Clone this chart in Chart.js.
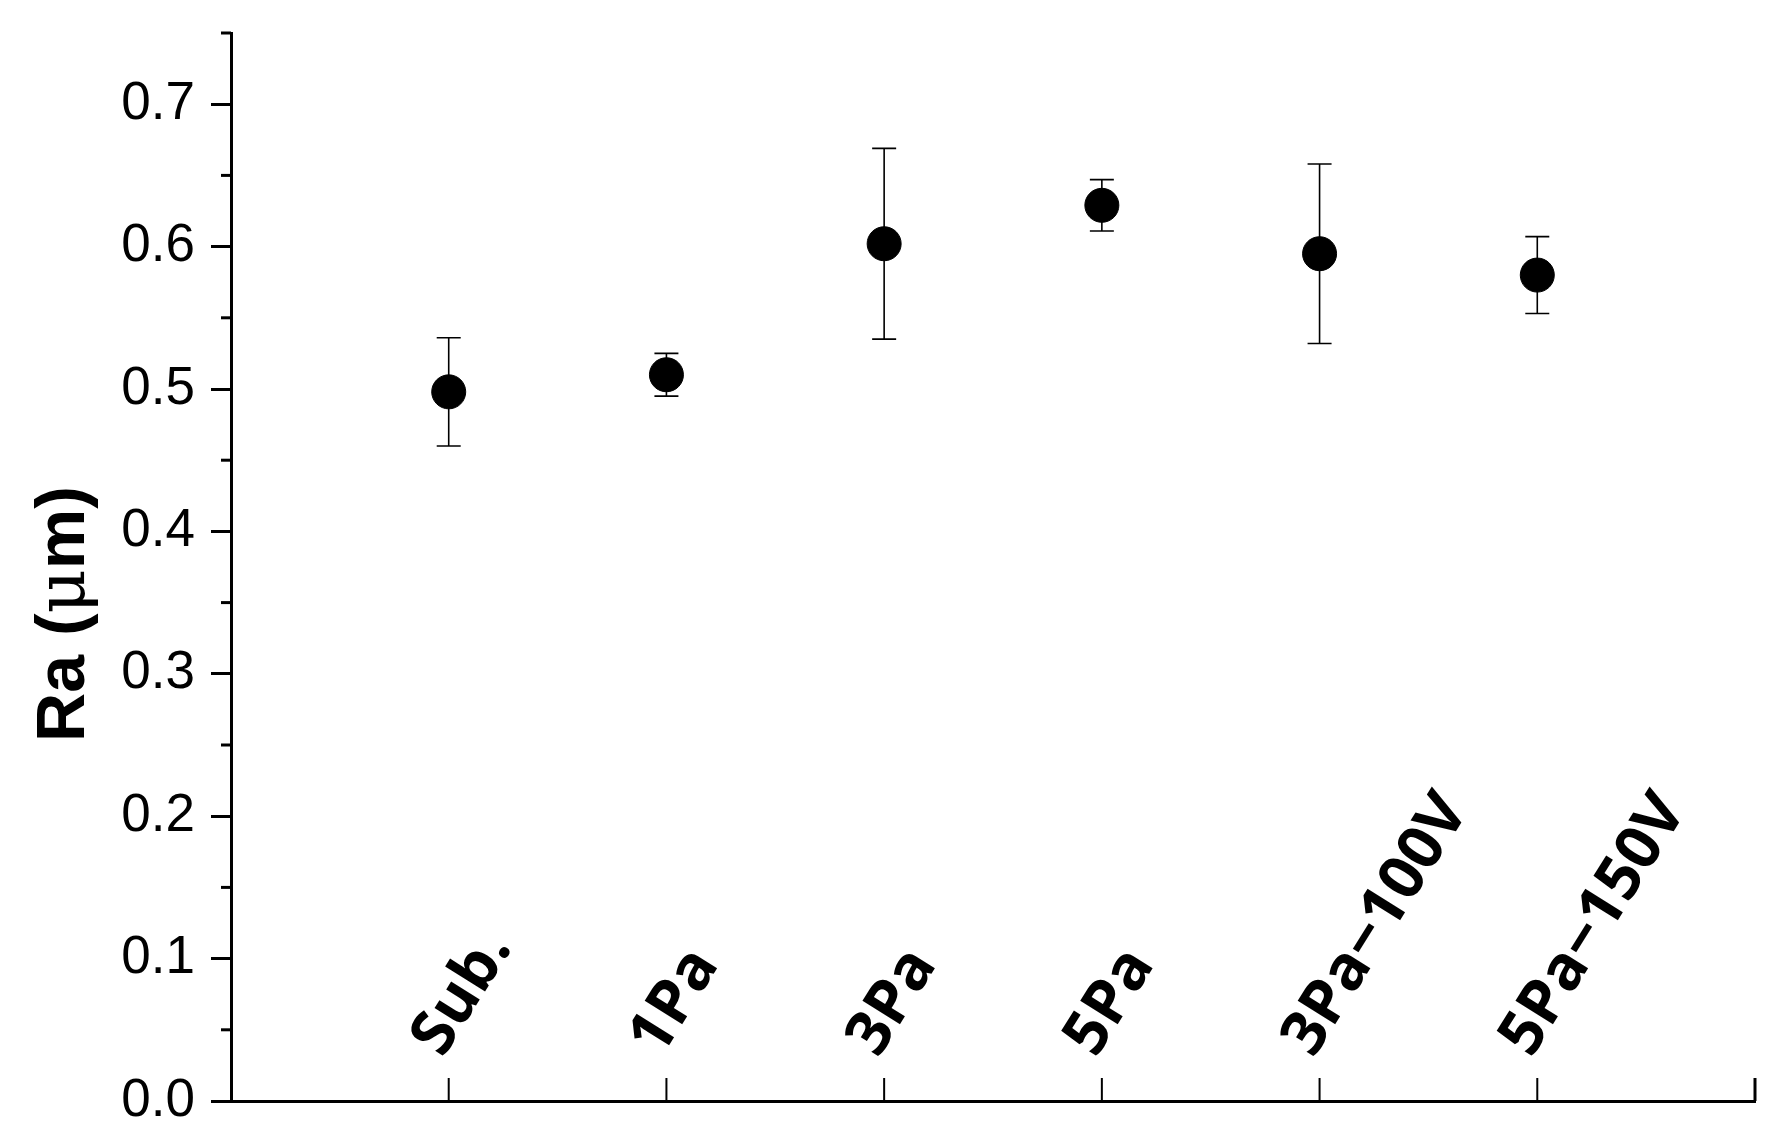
<!DOCTYPE html>
<html lang="en">
<head>
  <meta charset="UTF-8" />
  <title>Ra roughness</title>
  <style>
    body { margin: 0; background: #fff; }
    #wrap { width: 1790px; height: 1142px; }
  </style>
</head>
<body>
<div id="wrap"><canvas id="chart" width="1790" height="1142"></canvas></div>

<script src="https://cdn.jsdelivr.net/npm/chart.js@4.4.3"></script>
<script>
  // data
  const categories = ['Sub.', '1Pa', '3Pa', '5Pa', '3Pa\u2212100V', '5Pa\u2212150V'];
  const raValues = [0.498, 0.510, 0.602, 0.629, 0.595, 0.580];
  const raErrors = [0.038, 0.015, 0.067, 0.018, 0.063, 0.027];
  const yTicks = [0.0, 0.1, 0.2, 0.3, 0.4, 0.5, 0.6, 0.7];
  const yMinorTicks = [0.05, 0.15, 0.25, 0.35, 0.45, 0.55, 0.65, 0.75];

  const points = categories.map((c, i) => ({ x: i + 1, y: raValues[i] }));

  // error bars with caps
  const errorBars = {
    id: 'errorBars',
    beforeDatasetsDraw(chart) {
      const { ctx, scales: { x, y } } = chart;
      ctx.save();
      ctx.strokeStyle = '#000';
      ctx.lineWidth = 1.6;
      raValues.forEach((v, i) => {
        const px = x.getPixelForValue(i + 1);
        const top = y.getPixelForValue(v + raErrors[i]);
        const bot = y.getPixelForValue(v - raErrors[i]);
        ctx.beginPath();
        ctx.moveTo(px, top); ctx.lineTo(px, bot);
        ctx.moveTo(px - 12, top); ctx.lineTo(px + 12, top);
        ctx.moveTo(px - 12, bot); ctx.lineTo(px + 12, bot);
        ctx.stroke();
      });
      ctx.restore();
    }
  };

  // minor y ticks, inward x ticks, rotated category labels, axis title
  const axisDecor = {
    id: 'axisDecor',
    afterDraw(chart) {
      const { ctx, scales: { x, y }, chartArea } = chart;
      ctx.save();
      ctx.strokeStyle = '#000';
      ctx.lineWidth = 3;
      yMinorTicks.forEach(v => {
        const py = y.getPixelForValue(v);
        ctx.beginPath();
        ctx.moveTo(chartArea.left - 10, py);
        ctx.lineTo(chartArea.left, py);
        ctx.stroke();
      });

      for (let k = 1; k <= 7; k++) {
        const px = x.getPixelForValue(k);
        ctx.lineWidth = k === 7 ? 3 : 2;
        ctx.beginPath();
        ctx.moveTo(px, chartArea.bottom);
        ctx.lineTo(px, chartArea.bottom - 23);
        ctx.stroke();
      }

      ctx.fillStyle = '#000';
      ctx.font = 'bold 62px "Open Sans"';
      ctx.textAlign = 'left';
      ctx.textBaseline = 'alphabetic';
      categories.forEach((c, i) => {
        const px = x.getPixelForValue(i + 1);
        ctx.save();
        ctx.translate(px - 6, chartArea.bottom - 42);
        ctx.rotate(-58 * Math.PI / 180);
        ctx.fillText(c, 0, 0);
        ctx.restore();
      });

      // y title: "Ra (" bold, "μ" regular, "m)" bold
      const parts = [
        ['Ra (', 'bold 68px "Liberation Sans"'],
        ['\u03bc', '68px "DejaVu Serif"'],
        ['m)', 'bold 68px "Liberation Sans"']
      ];
      let total = 0;
      parts.forEach(p => { ctx.font = p[1]; total += ctx.measureText(p[0]).width; });
      ctx.save();
      ctx.translate(84, 614);
      ctx.rotate(-Math.PI / 2);
      let pos = -total / 2;
      parts.forEach(p => {
        ctx.font = p[1];
        ctx.fillText(p[0], pos, 0);
        pos += ctx.measureText(p[0]).width;
      });
      ctx.restore();
      ctx.restore();
    }
  };

  new Chart(document.getElementById('chart'), {
    type: 'scatter',
    data: {
      datasets: [{
        data: points,
        backgroundColor: '#000',
        borderColor: '#000',
        pointRadius: 17,
        pointHoverRadius: 17
      }]
    },
    options: {
      responsive: false,
      animation: false,
      layout: { padding: { top: 33, right: 35, left: 0, bottom: 0 } },
      plugins: { legend: { display: false }, tooltip: { enabled: false } },
      scales: {
        x: {
          type: 'linear',
          min: 0,
          max: 7,
          ticks: { display: false },
          grid: { display: false },
          border: { display: true, color: '#000', width: 3 },
          afterFit(scale) {
            scale.height = 41;
            scale.paddingLeft = 0; scale.paddingRight = 0;
          }
        },
        y: {
          min: 0,
          max: 0.75,
          afterBuildTicks(scale) { scale.ticks = yTicks.map(v => ({ value: v })); },
          afterFit(scale) {
            scale.width = 231;
            scale.paddingTop = 0; scale.paddingBottom = 0;
          },
          ticks: {
            color: '#000',
            padding: 16,
            font: { family: '"Liberation Sans", Arial', size: 53 },
            callback: v => v.toFixed(1)
          },
          grid: {
            drawOnChartArea: false,
            drawTicks: true,
            tickLength: 20,
            tickWidth: 3,
            tickColor: '#000'
          },
          border: { display: true, color: '#000', width: 3 }
        }
      }
    },
    plugins: [errorBars, axisDecor]
  });
</script>
</body>
</html>
